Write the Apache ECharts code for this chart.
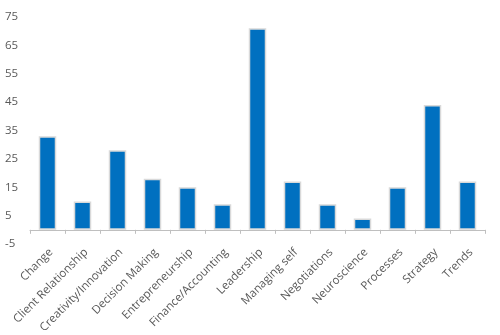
<!DOCTYPE html>
<html><head><meta charset="utf-8">
<script src="https://cdn.jsdelivr.net/npm/echarts@6/dist/echarts.min.js"></script>
<style>html,body{margin:0;padding:0;background:#fff}#c{width:500px;height:335px}</style>
</head><body><div id="c"></div>
<script>
const categories = ["Change","Client Relationship","Creativity/Innovation","Decision Making","Entrepreneurship","Finance/Accounting","Leadership","Managing self","Negotiations","Neuroscience","Processes","Strategy","Trends"];
const values = [33,10,28,18,15,9,71,17,9,4,15,44,17];
const yMin = -5, yMax = 75, yStep = 10;

const chart = echarts.init(document.getElementById('c'));
chart.setOption({
  animation:false,
  grid:{left:30,right:15,top:17,bottom:91,containLabel:false,outerBoundsMode:'none'},
  xAxis:{type:'category',data:categories,
    axisLine:{onZero:true,lineStyle:{color:'#bfbfbf',width:1}},
    axisTick:{show:true,alignWithLabel:false,length:4,lineStyle:{color:'#bfbfbf'}},
    axisLabel:{rotate:45,interval:0,color:'#595959',fontFamily:'Open Sans',fontSize:11.5,margin:10,padding:[0,-5,0,0]}},
  yAxis:{type:'value',min:yMin,max:yMax,interval:yStep,
    axisLine:{show:false},axisTick:{show:false},splitLine:{show:false},
    axisLabel:{color:'#595959',fontFamily:'Open Sans',fontSize:11.5,margin:25,align:'left',
      formatter:v=>String(v)}},
  series:[{type:'bar',data:values,barWidth:'50%',
    itemStyle:{color:'#0070C0',borderColor:'#d9d9d9',borderWidth:1.5}}]
});
</script></body></html>
